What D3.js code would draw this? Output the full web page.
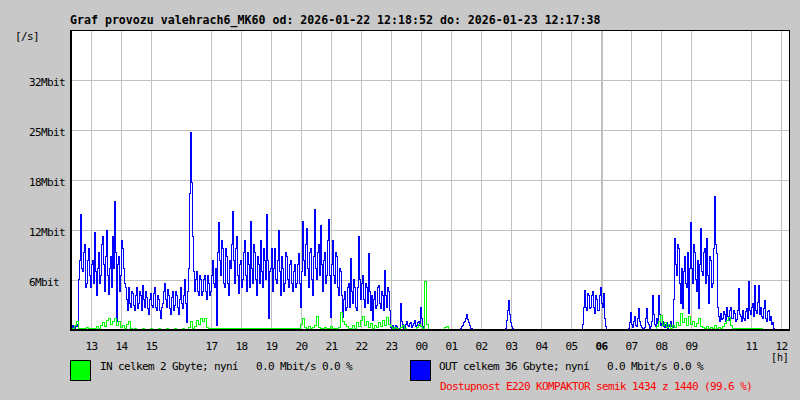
<!DOCTYPE html>
<html>
<head>
<meta charset="utf-8">
<script src="https://cdn.jsdelivr.net/npm/d3@7"></script>
<style>
  html, body { margin: 0; padding: 0; background: #c8c8c8; }
  svg { display: block; }
  text { font-family: "DejaVu Sans Mono", monospace; }
</style>
</head>
<body>
<svg id="chart" width="800" height="400"></svg>
<script>
// ---------- DATA ----------
const titleText = "Graf provozu valehrach6_MK60 od: 2026-01-22 12:18:52 do: 2026-01-23 12:17:38";
const startTime = "2026-01-22T12:18:52";
const endTime = "2026-01-23T12:17:38";
const unitY = "[/s]";
const unitX = "[h]";

const yTickValues = [6.4, 12.8, 19.2, 25.6, 32.0];
const yTickLabels = ["6Mbit", "12Mbit", "18Mbit", "25Mbit", "32Mbit"];
const yMax = 38.4;

const hourLabels = ["13","14","15","17","18","19","20","21","22","23","00","01","02","03","04","05","06","07","08","09","11","12"];
const hourTimes = [
  "2026-01-22T13:00:00","2026-01-22T14:00:00","2026-01-22T15:00:00","2026-01-22T17:00:00",
  "2026-01-22T18:00:00","2026-01-22T19:00:00","2026-01-22T20:00:00","2026-01-22T21:00:00",
  "2026-01-22T22:00:00","2026-01-22T23:00:00","2026-01-23T00:00:00","2026-01-23T01:00:00",
  "2026-01-23T02:00:00","2026-01-23T03:00:00","2026-01-23T04:00:00","2026-01-23T05:00:00",
  "2026-01-23T06:00:00","2026-01-23T07:00:00","2026-01-23T08:00:00","2026-01-23T09:00:00",
  "2026-01-23T11:00:00","2026-01-23T12:00:00"];
const boldHour = "06";

// OUT (blue), Mbit/s, 720 evenly spaced samples across the period
const outValues = [
  0.3,0.1,0.6,0.4,0.2,0.5,0.5,0.8,6.5,9.0,14.8,8.0,7.5,10.0,11.0,5.5,6.0,9.0,10.5,7.0,
  5.5,8.5,9.0,6.0,12.5,7.5,4.5,8.0,10.0,6.0,7.0,11.0,12.0,8.5,5.0,9.5,12.8,7.0,4.6,8.0,
  9.5,5.5,12.0,8.0,16.5,10.0,1.2,8.5,9.5,5.0,7.0,11.5,10.5,8.0,6.0,5.5,4.0,2.5,5.5,3.5,
  3.0,5.0,4.8,3.2,2.5,4.5,5.5,2.8,3.5,5.0,4.5,2.5,5.8,4.0,3.0,5.0,4.2,2.8,2.0,4.0,
  4.8,3.2,3.0,4.8,5.5,3.0,2.5,4.5,4.0,2.5,1.5,3.0,3.5,5.0,6.0,4.0,3.0,5.2,4.5,2.8,
  2.0,4.2,5.0,2.5,3.2,5.0,4.5,3.0,2.0,4.0,5.5,3.5,2.8,4.5,6.5,3.5,1.0,5.0,8.0,17.5,
  25.4,19.0,12.0,7.5,5.0,6.5,7.5,5.0,4.5,7.0,6.5,4.5,5.0,6.5,7.0,5.0,4.0,7.0,6.0,4.5,
  5.0,7.0,9.0,6.0,5.5,8.0,0.6,10.0,13.8,9.0,7.0,11.5,10.5,6.0,5.5,10.5,9.5,6.0,4.5,9.0,
  8.0,11.0,15.2,9.0,6.0,10.5,12.0,7.0,4.8,8.5,9.0,5.5,6.5,10.0,11.5,7.0,5.0,10.0,8.5,5.5,
  14.0,8.0,6.0,11.0,10.0,6.5,4.5,9.5,8.5,6.0,11.5,7.5,5.5,10.5,9.0,6.5,14.8,9.0,1.5,7.5,
  8.0,10.5,5.0,8.0,10.5,6.5,6.0,9.0,12.8,7.5,4.5,9.5,8.0,5.0,6.0,10.0,9.5,6.5,5.5,8.5,
  9.0,6.0,5.0,7.5,8.5,5.5,6.0,8.5,9.8,6.0,3.0,7.5,14.0,9.0,7.0,11.0,13.0,8.0,5.5,10.0,
  10.5,6.5,4.5,9.5,15.5,8.0,6.5,10.0,11.0,7.0,13.5,8.5,5.0,9.0,10.0,6.0,7.0,11.5,14.2,7.0,
  1.7,8.5,11.5,7.0,6.0,10.0,9.5,5.5,4.5,8.0,7.5,4.5,1.7,4.0,5.0,2.5,3.0,5.5,6.0,3.0,
  9.2,5.0,3.5,6.5,5.5,3.0,2.5,5.5,12.0,6.5,4.0,6.0,7.0,4.0,3.0,6.0,5.5,3.5,9.8,5.0,
  2.5,4.5,1.3,4.0,5.0,2.8,3.2,5.5,5.8,3.5,2.8,5.0,4.5,2.5,7.7,4.5,3.0,5.5,5.0,2.5,
  0.4,0.2,0.6,0.4,0.3,0.6,0.5,0.3,0.1,0.2,3.5,1.2,0.8,0.3,0.4,0.8,1.2,0.6,0.5,0.9,
  1.0,0.4,0.6,0.9,1.3,0.5,0.7,1.0,1.1,0.6,3.0,1.5,0.5,0.2,0.1,0,0,0,0,0,
  0,0,0,0,0,0,0.1,0,0,0,0,0,0,0,0,0,0,0,0,0,
  0,0,0,0,0,0,0,0,0,0.1,0.3,0.5,0.7,1.0,1.2,1.6,2.0,1.4,1.0,0.6,
  0.3,0.2,0.1,0,0,0,0,0,0,0,0,0,0,0,0,0,0,0,0,0,
  0,0,0,0,0,0,0,0,0,0,0,0,0,0,0,0.2,1.3,2.5,3.8,2.0,
  1.0,0.5,0.2,0,0,0,0,0,0,0,0,0,0,0,0,0,0,0,0,0,
  0,0,0,0,0,0,0,0,0,0,0,0,0,0,0,0,0,0,0,0,
  0,0,0,0,0,0,0,0,0,0,0,0,0,0,0,0,0,0,0,0,
  0,0,0,0,0,0,0,0,0,0,0,0,0.8,3.0,5.1,3.0,2.5,4.8,4.5,2.8,
  3.0,4.5,5.0,3.0,2.2,4.5,4.0,2.5,2.5,4.5,5.5,3.5,3.0,4.8,1.5,0.5,0,0,0,0,
  0,0,0,0,0,0,0,0,0,0,0,0,0,0,0,0,0,0,0.2,1.0,
  2.3,0.8,0.4,1.2,1.8,0.6,0.5,1.5,2.8,1.2,0.6,0.4,0.3,0.2,0.4,1.5,2.8,1.0,0.8,0.3,
  0.5,1.2,4.5,2.0,0.8,0.5,1.5,0.9,4.5,2.0,0.6,0.9,1.2,0.5,0.4,0.8,1.0,0.3,0.5,0.8,
  1.1,0.5,0.4,4.0,11.8,8.5,7.0,11.0,10.5,6.0,3.5,8.0,2.8,7.5,9.5,6.0,5.5,10.0,2.2,8.0,
  13.8,8.0,6.0,11.0,10.0,6.5,5.0,9.0,2.8,8.5,13.0,7.5,7.0,10.0,10.5,6.0,11.8,7.0,3.5,9.5,
  9.0,5.5,6.0,10.5,17.2,11.0,9.8,3.0,1.8,1.2,2.2,1.4,1.5,2.4,2.0,1.2,3.0,1.8,1.3,2.5,
  3.0,1.5,1.6,2.5,2.2,1.2,1.4,2.6,5.4,2.0,1.8,1.2,2.5,1.6,1.3,2.4,2.8,1.5,6.3,2.5,
  2.0,3.0,3.5,1.8,5.8,2.6,2.2,3.6,5.8,2.0,3.0,1.8,1.5,2.8,3.8,1.6,1.2,2.4,2.6,1.3,
  1.8,0.8,1.0,0.3,0,0,0,0,0,0,0,0,0,0,0,0,0,0,0,0
];

// IN (green), Mbit/s, 360 evenly spaced samples
const inValues = [
  0,0.3,0.6,1.1,0.3,0.2,0.3,0.2,0.4,0.2,
  0.3,0.2,0.3,0.5,0.2,0.6,1.0,0.5,1.3,1.6,
  0.8,1.2,1.5,0.6,1.1,0.4,0.7,0.2,0.8,1.1,
  0.3,0.15,0.2,0.15,0.1,0.15,0.2,0.15,0.1,0.15,
  0.2,0.15,0.1,0.15,0.2,0.15,0.15,0.1,0.2,0.15,
  0.15,0.1,0.2,0.15,0.1,0.15,0.2,0.15,0.1,0.4,
  1.1,0.3,0.5,1.3,0.8,1.5,1.2,1.5,0.4,0.2,
  0.3,0.2,0.3,0.2,0.3,0.3,0.2,0.3,0.2,0.3,
  0.2,0.3,0.3,0.2,0.3,0.2,0.3,0.2,0.3,0.2,
  0.3,0.2,0.3,0.3,0.2,0.3,0.2,0.3,0.2,0.3,
  0.2,0.3,0.3,0.2,0.3,0.2,0.3,0.2,0.3,0.2,
  0.3,0.2,0.3,0.2,0.3,0.8,1.5,0.4,0.3,0.5,
  0.3,0.4,0.6,1.8,0.4,0.3,0.2,0.4,0.3,0.3,
  0.5,0.2,0.3,0.3,0.4,2.3,1.2,0.8,0.5,0.3,
  0.2,0.6,0.3,1.0,0.5,1.3,1.8,0.7,1.2,0.4,
  0.9,0.3,0.6,0.4,1.0,0.5,1.3,0.6,1.7,0.8,
  0.5,0.3,0.4,0.2,0.1,0.4,0.6,0.3,0.1,0.1,
  0.1,0.1,0.1,0.4,0.8,0.5,0.3,6.3,0.8,0,
  0,0,0,0,0,0,0,0.4,0.5,0,
  0,0,0,0,0,0,0,0,0,0,
  0,0,0,0,0,0,0,0,0,0,
  0,0,0,0,0,0,0,0,0,0,
  0,0,0,0,0,0,0,0,0,0,
  0,0,0,0,0,0,0,0,0,0,
  0,0,0,0,0,0,0,0,0,0,
  0,0,0,0,0,0,0.1,0.1,0.1,0.1,
  0.1,0.1,0.1,0.1,0.1,0.1,0.1,0.1,0,0,
  0,0,0,0,0,0,0,0,0,0,
  0,0,0,0,0,0,0,0,0,0,
  0,0,0,0.5,1.2,1.9,0.6,1.0,0.4,0.8,
  0.3,0.6,0.4,1.0,0.6,2.2,1.0,1.5,0.7,1.8,
  0.8,1.2,0.5,0.9,1.5,0.5,0.4,0.3,0.5,0.3,
  0.4,0.3,0.6,0.3,0.4,0.3,0.5,0.9,1.3,1.7,
  0.6,0.3,0.2,0.2,0.2,0.2,0.2,0.2,0.2,0.2,
  0.2,0.2,0.2,0.2,0.2,0.2,0.1,0.1,0.1,0.1,
  0.1,0.1,0,0,0,0,0,0,0,0
];

const legendIn = "IN celkem 2 Gbyte; nyní   0.0 Mbit/s 0.0 %";
const legendOut = "OUT celkem 36 Gbyte; nyní   0.0 Mbit/s 0.0 %";
const availability = "Dostupnost E220 KOMPAKTOR semik 1434 z 1440 (99.6 %)";

// ---------- DRAW ----------
const parse = d3.timeParse("%Y-%m-%dT%H:%M:%S");
const t0 = parse(startTime), t1 = parse(endTime);
const plot = { left: 70, right: 790, top: 30, bottom: 330 };

const x = d3.scaleTime().domain([t0, t1]).range([plot.left, plot.right]);
const y = d3.scaleLinear().domain([0, yMax]).range([plot.bottom, plot.top]);
const timeAt = (i, n) => new Date(t0.getTime() + i * (t1 - t0) / n);
const px = v => Math.round(v) + 0.5;

const svg = d3.select("#chart");
svg.append("rect").attr("width", 800).attr("height", 400).attr("fill", "#c8c8c8");
svg.append("rect").attr("x", plot.left).attr("y", plot.top)
  .attr("width", plot.right - plot.left).attr("height", plot.bottom - plot.top).attr("fill", "#ffffff");

// grid
const grid = svg.append("g").attr("shape-rendering", "crispEdges");
grid.selectAll("line.h").data(yTickValues).join("line")
  .attr("x1", plot.left).attr("x2", plot.right)
  .attr("y1", d => px(y(d))).attr("y2", d => px(y(d)))
  .attr("stroke", "#c0c0c0").attr("stroke-width", 1);
grid.selectAll("line.v").data(hourTimes).join("line")
  .attr("x1", d => px(x(parse(d)))).attr("x2", d => px(x(parse(d))))
  .attr("y1", plot.top).attr("y2", plot.bottom)
  .attr("stroke", "#c0c0c0")
  .attr("stroke-width", (d, i) => hourLabels[i] === boldHour ? 2 : 1);

// series (pixel-snapped step lines)
const makeLine = n => d3.line()
  .x((d, i) => px(x(timeAt(i, n))))
  .y(d => px(y(d)))
  .curve(d3.curveStepAfter);
svg.append("path").datum(outValues).attr("d", makeLine(outValues.length))
  .attr("fill", "none").attr("stroke", "#0000ff").attr("stroke-width", 1)
  .attr("shape-rendering", "crispEdges");
svg.append("path").datum(inValues).attr("d", makeLine(inValues.length))
  .attr("fill", "none").attr("stroke", "#00ff00").attr("stroke-width", 1)
  .attr("shape-rendering", "crispEdges");

// frame
const frame = svg.append("g").attr("fill", "#000").attr("shape-rendering", "crispEdges");
frame.append("rect").attr("x", plot.left).attr("y", plot.top).attr("width", plot.right - plot.left).attr("height", 1);
frame.append("rect").attr("x", plot.left).attr("y", plot.top).attr("width", 2).attr("height", plot.bottom - plot.top + 1);
frame.append("rect").attr("x", plot.right - 1).attr("y", plot.top).attr("width", 1).attr("height", plot.bottom - plot.top + 1);
frame.append("rect").attr("x", plot.left).attr("y", plot.bottom - 1).attr("width", plot.right - plot.left).attr("height", 2);

// texts
const small = { size: "11px", ls: "-0.62px" };
svg.append("text").attr("x", 70).attr("y", 24).text(titleText)
  .attr("font-size", "11.6px").attr("font-weight", "bold").attr("fill", "#000");
svg.append("text").attr("x", 15).attr("y", 40).text(unitY)
  .attr("font-size", small.size).attr("letter-spacing", small.ls).attr("fill", "#000");
svg.append("text").attr("x", 771).attr("y", 361).text(unitX)
  .attr("font-size", "10px").attr("letter-spacing", "-0.1px").attr("fill", "#000");

svg.selectAll("text.ylab").data(yTickValues).join("text").attr("class", "ylab")
  .attr("x", 29).attr("y", d => Math.round(y(d)) + 6)
  .attr("font-size", small.size).attr("letter-spacing", small.ls).attr("fill", "#000")
  .text((d, i) => yTickLabels[i]);

svg.selectAll("text.xlab").data(hourTimes).join("text").attr("class", "xlab")
  .attr("x", d => px(x(parse(d)))).attr("y", 350)
  .attr("text-anchor", "middle")
  .attr("font-size", small.size).attr("letter-spacing", small.ls).attr("fill", "#000")
  .attr("font-weight", (d, i) => hourLabels[i] === boldHour ? "bold" : "normal")
  .text((d, i) => hourLabels[i]);

// legend
svg.append("rect").attr("x", 70.5).attr("y", 360.5).attr("width", 20).attr("height", 20)
  .attr("fill", "#00ff00").attr("stroke", "#000");
svg.append("rect").attr("x", 410.5).attr("y", 360.5).attr("width", 20).attr("height", 20)
  .attr("fill", "#0000ff").attr("stroke", "#000");
svg.append("text").attr("x", 100).attr("y", 370).text(legendIn)
  .attr("font-size", small.size).attr("letter-spacing", small.ls).attr("fill", "#000")
  .style("white-space", "pre");
svg.append("text").attr("x", 439).attr("y", 370).text(legendOut)
  .attr("font-size", small.size).attr("letter-spacing", small.ls).attr("fill", "#000")
  .style("white-space", "pre");
svg.append("text").attr("x", 440).attr("y", 390).text(availability)
  .attr("font-size", small.size).attr("letter-spacing", small.ls).attr("fill", "#ff0000");
</script>
</body>
</html>
